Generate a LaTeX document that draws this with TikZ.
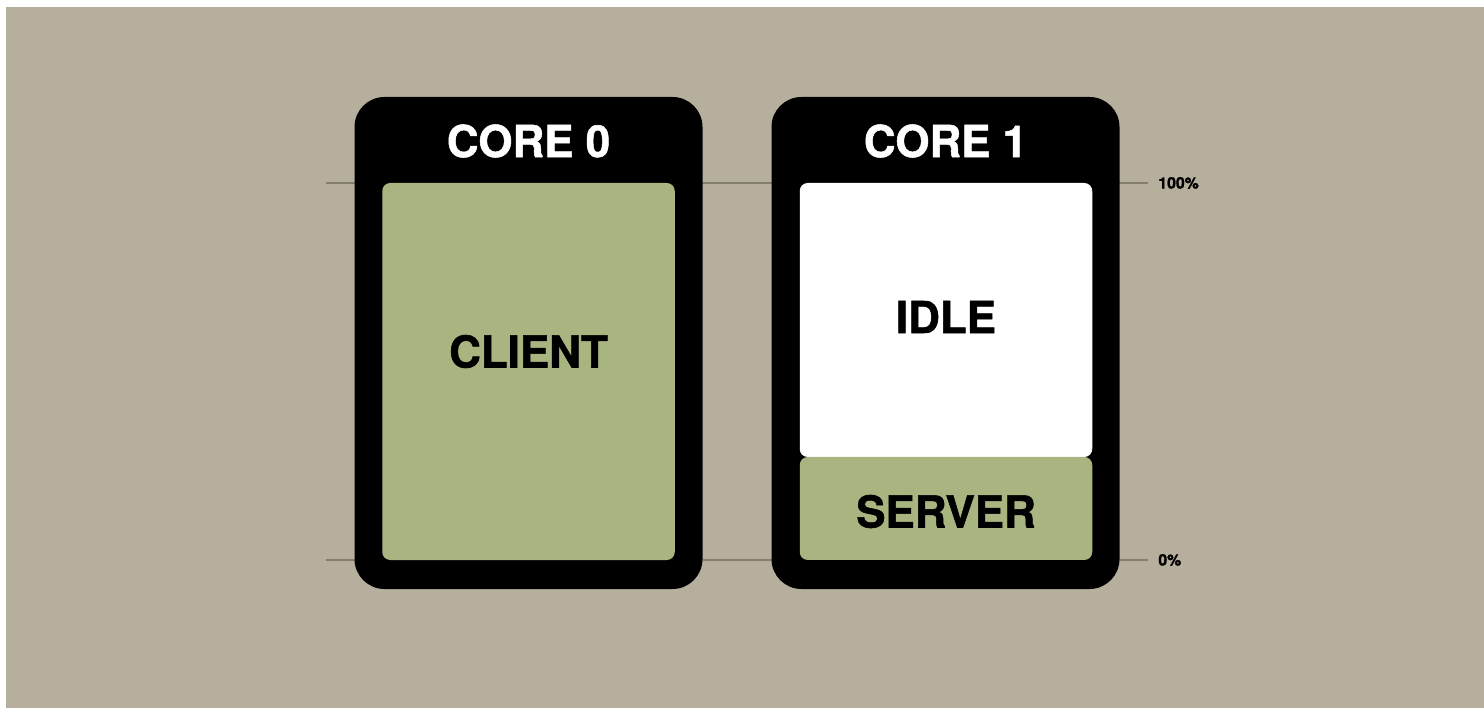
\documentclass[tikz,border=0pt]{standalone}
\usepackage{fontspec}
\setmainfont{TeX Gyre Heros}[BoldFeatures={FakeBold=1.2}]
\usepackage{tikz}
\usetikzlibrary{positioning}

\definecolor{paper}{RGB}{183,175,157}
\definecolor{sage}{RGB}{169,181,128}
\definecolor{rule}{RGB}{132,126,112}

\begin{document}
\begin{tikzpicture}[x=0.2mm,y=0.2mm]
	\tikzstyle{card} = [fill=black, rounded corners=6mm, minimum width=69.6mm, minimum height=98.4mm, inner sep=0pt]
	\tikzstyle{slot} = [rounded corners=1.6mm, minimum width=58.5mm, inner sep=0pt, font=\fontsize{25}{30}\selectfont\bfseries]
	\tikzstyle{title} = [text=white, font=\fontsize{25}{30}\selectfont\bfseries]
	\tikzstyle{tick} = [anchor=west, inner sep=0pt, inner xsep=5.7pt, font=\fontsize{9}{10}\selectfont\bfseries]
	\tikzstyle{scaleline} = [draw=rule, line width=0.4mm]
	%Background
	\fill[white] (0,0) rectangle (1484,708);
	\fill[paper] (6,0) rectangle (1484,701);
	%Scale lines
	\coordinate (fullstart) at (326,525);
	\coordinate (zerostart) at (326,148);
	\node [tick] (full) at (1148,525) {100\%};
	\node [tick] (zero) at (1148,148) {0\%};
	\draw[scaleline] (fullstart) -- (full.west);
	\draw[scaleline] (zerostart) -- (zero.west);
	%Creating Cores
	\node [card] (core0) at (528.5,365) {};
	\node [card] (core1) at (945.5,365) {};
	\node [title] (title0) at (528.5,567) {CORE 0};
	\node [title] (title1) at (945.5,567) {CORE 1};
	%Load inside each core
	\node [slot, fill=sage, minimum height=75.4mm, label={[font=\fontsize{25}{30}\selectfont\bfseries, yshift=4mm]center:CLIENT}] (client) at (528.5,336.5) {};
	\node [slot, fill=white, minimum height=54.8mm, label={[font=\fontsize{25}{30}\selectfont\bfseries, yshift=0.6mm]center:IDLE}] (idle) at (946,388) {};
	\node [slot, fill=sage, minimum height=20.6mm, label={[font=\fontsize{25}{30}\selectfont\bfseries, yshift=-0.6mm]center:SERVER}] (server) at (946,199.5) {};
\end{tikzpicture}
\end{document}
